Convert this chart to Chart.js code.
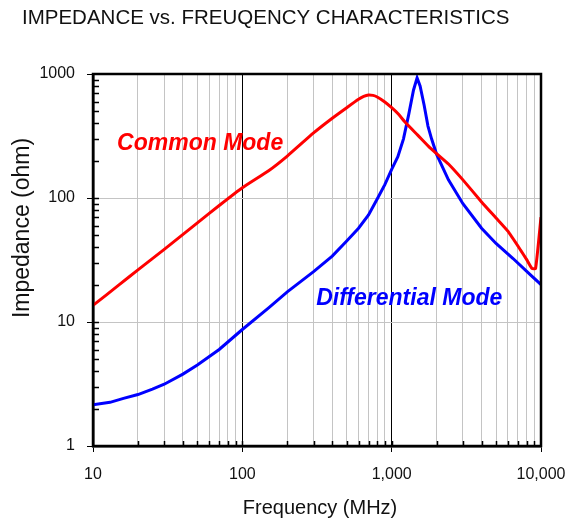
<!DOCTYPE html>
<html>
<head>
<meta charset="utf-8">
<title>Impedance vs. Frequency</title>
<script src="https://cdn.jsdelivr.net/npm/chart.js@4.4.1/dist/chart.umd.min.js"></script>
<style>
    html, body { margin: 0; padding: 0; background: #fff; }
    #wrap { width: 571px; height: 525px; }
</style>
</head>
<body>
<div id="wrap"><canvas id="impChart" width="571" height="525"></canvas></div>
<script>
// --- Data ---
const cmFreq = [10, 15, 20, 30, 50, 70, 100, 150, 200, 300, 400, 500, 600, 650, 700, 750, 800, 900, 1000, 1100, 1250, 1500, 1800, 2000, 2400, 3000, 4000, 5000, 6000, 7300, 8000, 8700, 9200, 10000];
const cmImp  = [13.6, 20, 26.3, 38.5, 63, 87, 121, 166, 218, 335, 440, 535, 625, 660, 678, 672, 652, 595, 535, 480, 400, 320, 255, 228, 188, 140, 93, 69, 54, 38, 32, 27, 27, 70];

const dmFreq = [10, 13, 16, 20, 25, 30, 40, 50, 70, 100, 150, 200, 300, 400, 500, 600, 700, 800, 900, 1000, 1100, 1200, 1300, 1400, 1480, 1550, 1650, 1750, 1850, 2000, 2400, 3000, 4000, 5000, 6500, 8500, 10000];
const dmImp  = [2.15, 2.25, 2.42, 2.6, 2.88, 3.15, 3.8, 4.5, 6, 8.7, 13, 17.5, 25.5, 34, 45, 57, 73, 98, 128, 170, 215, 300, 470, 740, 930, 800, 560, 380, 300, 225, 140, 90, 57, 43, 32.5, 24, 20];

// Axis ticks
const xDecades = [10, 100, 1000, 10000];
const xDecadeLabels = ['10', '100', '1,000', '10,000'];
const yDecades = [1, 10, 100, 1000];
const yDecadeLabels = ['1', '10', '100', '1000'];
const minorSteps = [2, 3, 4, 5, 6, 7, 8, 9];

const seriesNames = ['Common Mode', 'Differential Mode'];
const chartTitle = 'IMPEDANCE vs. FREUQENCY CHARACTERISTICS';
const xTitle = 'Frequency (MHz)';
const yTitle = 'Impedance (ohm)';

const FONT = '"Liberation Sans", Arial, Helvetica, sans-serif';
const RED = '#ff0000';
const BLUE = '#0000ff';
const INK = '#111';

function withMinors(decades) {
    const out = [];
    decades.forEach((d, i) => {
        out.push(d);
        if (i < decades.length - 1) minorSteps.forEach(m => out.push(d * m));
    });
    return out;
}
const xTickValues = withMinors(xDecades);
const yTickValues = withMinors(yDecades);

function toPoints(xs, ys) {
    return xs.map((x, i) => ({ x: x, y: ys[i] }));
}

// --- Plugin: inner minor ticks + heavy frame ---
const plotFrame = {
    id: 'plotFrame',
    afterDatasetsDraw(chart) {
        const { ctx, chartArea: a, scales: { x, y } } = chart;
        ctx.save();
        ctx.strokeStyle = '#000';
        ctx.lineWidth = 1.5;
        ctx.beginPath();
        xTickValues.forEach(v => {
            if (v === 10 || v === 10000) return;
            const px = Math.round(x.getPixelForValue(v)) + 0.5;
            ctx.moveTo(px, a.bottom);
            ctx.lineTo(px, a.bottom - 5);
        });
        yTickValues.forEach(v => {
            if (v === 1 || v === 1000) return;
            const py = Math.round(y.getPixelForValue(v)) + 0.5;
            ctx.moveTo(a.left, py);
            ctx.lineTo(a.left + 6, py);
        });
        ctx.stroke();
        ctx.lineWidth = 2.5;
        ctx.strokeRect(a.left, a.top, a.right - a.left, a.bottom - a.top);
        ctx.restore();
    }
};

// --- Plugin: titles and curve names ---
const chartTexts = {
    id: 'chartTexts',
    afterDraw(chart, args, opts) {
        const { ctx, scales: { x, y } } = chart;
        ctx.save();
        ctx.textBaseline = 'middle';
        ctx.fillStyle = INK;

        ctx.textAlign = 'left';
        ctx.font = '20.5px ' + FONT;
        ctx.fillText(chartTitle, 22, 18);

        ctx.textAlign = 'center';
        ctx.font = '20px ' + FONT;
        ctx.fillText(xTitle, 320, 508);

        ctx.save();
        ctx.translate(23, 228);
        ctx.rotate(-Math.PI / 2);
        ctx.font = '23px ' + FONT;
        ctx.fillText(yTitle, 0, 0);
        ctx.restore();

        ctx.textAlign = 'left';
        ctx.font = 'italic bold 23px ' + FONT;
        opts.names.forEach(n => {
            ctx.fillStyle = n.color;
            ctx.fillText(n.text, x.getPixelForValue(n.at[0]), y.getPixelForValue(n.at[1]));
        });
        ctx.restore();
    }
};

const ctx = document.getElementById('impChart').getContext('2d');
new Chart(ctx, {
    type: 'line',
    data: {
        datasets: [{
            label: seriesNames[0],
            data: toPoints(cmFreq, cmImp),
            borderColor: RED,
            borderWidth: 3,
            pointRadius: 0,
            tension: 0.15,
            fill: false
        }, {
            label: seriesNames[1],
            data: toPoints(dmFreq, dmImp),
            borderColor: BLUE,
            borderWidth: 3,
            pointRadius: 0,
            tension: 0,
            fill: false
        }]
    },
    options: {
        responsive: false,
        animation: false,
        layout: { padding: { top: 74, right: 30, left: 0, bottom: 0 } },
        plugins: {
            legend: { display: false },
            tooltip: { enabled: false },
            chartTexts: {
                names: [
                    { text: seriesNames[0], color: RED, at: [14.5, 275] },
                    { text: seriesNames[1], color: BLUE, at: [312, 15.5] }
                ]
            }
        },
        scales: {
            x: {
                type: 'logarithmic',
                min: 10,
                max: 10000,
                afterBuildTicks: s => { s.ticks = xTickValues.map(v => ({ value: v })); },
                afterFit: s => { s.height = 79; s.paddingRight = 0; s.paddingLeft = 0; },
                ticks: {
                    autoSkip: false,
                    maxRotation: 0,
                    padding: 13,
                    color: INK,
                    font: { family: FONT, size: 16 },
                    callback: v => {
                        const i = xDecades.indexOf(v);
                        return i >= 0 ? xDecadeLabels[i] : '';
                    }
                },
                grid: {
                    tickLength: 6,
                    lineWidth: 1,
                    color: c => (c.tick.value === 100 || c.tick.value === 1000) ? '#000' : '#c4c4c4',
                    tickColor: c => xDecades.includes(c.tick.value) ? '#000' : 'rgba(0,0,0,0)'
                },
                border: { color: '#000', width: 2.5 }
            },
            y: {
                type: 'logarithmic',
                min: 1,
                max: 1000,
                afterBuildTicks: s => { s.ticks = yTickValues.map(v => ({ value: v })); },
                afterFit: s => { s.width = 93; },
                ticks: {
                    autoSkip: false,
                    padding: 12,
                    color: INK,
                    font: { family: FONT, size: 16 },
                    callback: v => {
                        const i = yDecades.indexOf(v);
                        return i >= 0 ? yDecadeLabels[i] : '';
                    }
                },
                grid: {
                    tickLength: 6,
                    lineWidth: 1,
                    color: c => (c.tick.value === 10 || c.tick.value === 100) ? '#c4c4c4' : 'rgba(0,0,0,0)',
                    tickColor: c => yDecades.includes(c.tick.value) ? '#000' : 'rgba(0,0,0,0)'
                },
                border: { color: '#000', width: 2.5 }
            }
        }
    },
    plugins: [plotFrame, chartTexts]
});
</script>
</body>
</html>
